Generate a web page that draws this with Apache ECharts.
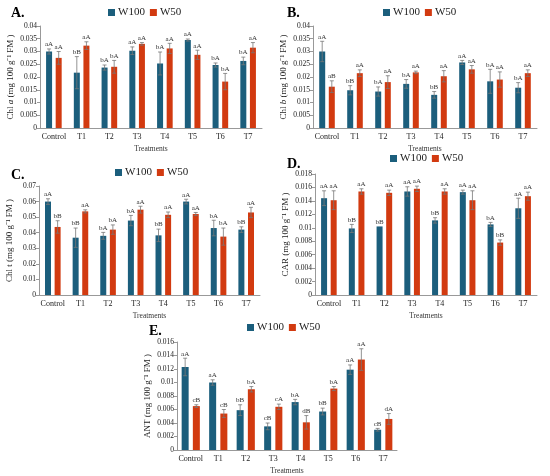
<!DOCTYPE html>
<html>
<head>
<meta charset="utf-8">
<script src="https://cdn.jsdelivr.net/npm/echarts@6/dist/echarts.min.js"></script>
<style>
html, body {margin: 0; padding: 0; background: #fff;}
#main {width: 550px; height: 476px;}
</style>
</head>
<body>
<div id="main"></div>
<script>
var categories = ['Control', 'T1', 'T2', 'T3', 'T4', 'T5', 'T6', 'T7'];

// A. Chl a
var chlaW100 = [0.0300, 0.0217, 0.0237, 0.0303, 0.0253, 0.0345, 0.0247, 0.0263];
var chlaW50 = [0.0275, 0.0323, 0.0240, 0.0330, 0.0312, 0.0287, 0.0182, 0.0315];
var chlaW100Err = [0.0010, 0.0063, 0.0010, 0.0015, 0.0045, 0.0004, 0.0008, 0.0015];
var chlaW50Err = [0.0025, 0.0015, 0.0025, 0.0005, 0.0020, 0.0018, 0.0032, 0.0020];
var chlaW100Lbl = ['aA', 'bB', 'bA', 'aA', 'bA', 'aA', 'bA', 'bA'];
var chlaW50Lbl = ['aA', 'aA', 'bA', 'aA', 'aA', 'aA', 'bA', 'aA'];

// B. Chl b
var chlbW100 = [0.0300, 0.0148, 0.0143, 0.0173, 0.0130, 0.0257, 0.0183, 0.0158];
var chlbW50 = [0.0162, 0.0215, 0.0180, 0.0218, 0.0203, 0.0230, 0.0190, 0.0215];
var chlbW100Err = [0.0040, 0.0018, 0.0018, 0.0017, 0.0013, 0.0008, 0.0047, 0.0020];
var chlbW50Err = [0.0023, 0.0013, 0.0025, 0.0005, 0.0022, 0.0015, 0.0030, 0.0013];
var chlbW100Lbl = ['aA', 'bB', 'bA', 'bA', 'bB', 'aA', 'bA', 'bA'];
var chlbW50Lbl = ['aB', 'aA', 'aA', 'aA', 'aA', 'aA', 'aA', 'aA'];

// C. Chl t
var chltW100 = [0.0600, 0.0368, 0.0380, 0.0478, 0.0383, 0.0600, 0.0430, 0.0420];
var chltW50 = [0.0437, 0.0537, 0.0420, 0.0548, 0.0515, 0.0520, 0.0375, 0.0530];
var chltW100Err = [0.0018, 0.0062, 0.0022, 0.0033, 0.0040, 0.0015, 0.0050, 0.0018];
var chltW50Err = [0.0040, 0.0010, 0.0030, 0.0022, 0.0018, 0.0010, 0.0055, 0.0033];
var chltW100Lbl = ['aA', 'bB', 'bA', 'bA', 'bB', 'aA', 'bA', 'bB'];
var chltW50Lbl = ['bB', 'aA', 'bA', 'aA', 'aA', 'aA', 'bA', 'aA'];

// D. CAR
var carW100 = [0.0144, 0.0099, 0.0102, 0.0154, 0.0111, 0.0153, 0.0105, 0.0129];
var carW50 = [0.0141, 0.0154, 0.0152, 0.0158, 0.0154, 0.0141, 0.0078, 0.0147];
var carW100Err = [0.0011, 0.0006, 0.0000, 0.0007, 0.0004, 0.0003, 0.0003, 0.0015];
var carW50Err = [0.0014, 0.0004, 0.0004, 0.0004, 0.0004, 0.0014, 0.0004, 0.0006];
var carW100Lbl = ['aA', 'bB', 'bB', 'aA', 'bB', 'aA', 'bA', 'aA'];
var carW50Lbl = ['aA', 'aA', 'aA', 'aA', 'aA', 'aA', 'bB', 'aA'];

// E. ANT
var antW100 = [0.0123, 0.0100, 0.0059, 0.0035, 0.0071, 0.0057, 0.0119, 0.0030];
var antW50 = [0.0065, 0.0054, 0.0090, 0.0064, 0.0041, 0.0091, 0.0134, 0.0046];
var antW100Err = [0.0013, 0.0004, 0.0008, 0.0005, 0.0004, 0.0005, 0.0007, 0.0002];
var antW50Err = [0.0002, 0.0006, 0.0004, 0.0004, 0.0010, 0.0003, 0.0016, 0.0008];
var antW100Lbl = ['aA', 'aA', 'bB', 'cB', 'bA', 'bB', 'aA', 'cB'];
var antW50Lbl = ['cB', 'cB', 'bA', 'cA', 'dB', 'bA', 'aA', 'dA'];

var yMax = [0.04, 0.04, 0.07, 0.018, 0.016];
var yStep = [0.005, 0.005, 0.01, 0.002, 0.002];

var serif = 'Liberation Serif';
var c100 = '#1b5e7c';
var c50 = '#d23a10';

var myChart = echarts.init(document.getElementById('main'));

var panels = [
    {tag: 'A.', name: '{n|Chl }{i|a}{n| (mg 100 g⁻¹ FM )}', w100: chlaW100, w50: chlaW50, e100: chlaW100Err, e50: chlaW50Err, l100: chlaW100Lbl, l50: chlaW50Lbl,
        grid: {left: 40, top: 26, width: 222, height: 102}, title: [6, 1], legend: [103, 2], bw: 6},
    {tag: 'B.', name: '{n|Chl }{i|b}{n| (mg 100 g⁻¹ FM )}', w100: chlbW100, w50: chlbW50, e100: chlbW100Err, e50: chlbW50Err, l100: chlbW100Lbl, l50: chlbW50Lbl,
        grid: {left: 313, top: 26, width: 224, height: 102}, title: [282, 1], legend: [378, 2], bw: 6},
    {tag: 'C.', name: '{n|Chl t (mg 100 g⁻¹ FM )}', w100: chltW100, w50: chltW50, e100: chltW100Err, e50: chltW50Err, l100: chltW100Lbl, l50: chltW50Lbl,
        grid: {left: 39, top: 186, width: 221, height: 109}, title: [6, 163], legend: [110, 162], bw: 6},
    {tag: 'D.', name: '{n|CAR (mg 100 g⁻¹ FM )}', w100: carW100, w50: carW50, e100: carW100Err, e50: carW50Err, l100: carW100Lbl, l50: carW50Lbl,
        grid: {left: 315, top: 174, width: 222, height: 121}, title: [282, 152], legend: [385, 148], bw: 6},
    {tag: 'E.', name: '{n|ANT (mg 100 g⁻¹ FM )}', w100: antW100, w50: antW50, e100: antW100Err, e50: antW50Err, l100: antW100Lbl, l50: antW50Lbl,
        grid: {left: 177, top: 342, width: 220, height: 109}, title: [144, 319], legend: [242, 317], bw: 7}
];

// 误差线 + 显著性字母
function errRender(vals, errs, lbls, shift) {
    return function (params, api) {
        var i = params.dataIndex;
        var v = vals[i], e = errs[i];
        var top = api.coord([i, v + e]);
        var bot = api.coord([i, v - e]);
        var x = api.coord([i, v])[0] + shift;
        var kids = [];
        if (e > 0) {
            kids.push({type: 'line', shape: {x1: x, y1: bot[1], x2: x, y2: top[1]}, style: {stroke: '#777', lineWidth: 0.8}});
            kids.push({type: 'line', shape: {x1: x - 2, y1: top[1], x2: x + 2, y2: top[1]}, style: {stroke: '#777', lineWidth: 0.8}});
            kids.push({type: 'line', shape: {x1: x - 2, y1: bot[1], x2: x + 2, y2: bot[1]}, style: {stroke: '#777', lineWidth: 0.8}});
        }
        kids.push({type: 'text', style: {text: lbls[i], x: x, y: top[1] - 1, align: 'center', verticalAlign: 'bottom',
            fontSize: 7, fontFamily: serif, fill: '#333'}});
        return {type: 'group', children: kids};
    };
}

var option = {
    animation: false,
    backgroundColor: '#fff',
    title: [], legend: [], grid: [], xAxis: [], yAxis: [], series: []
};

panels.forEach(function (p, k) {
    option.title.push({text: p.tag, left: p.title[0], top: p.title[1],
        textStyle: {fontFamily: serif, fontSize: 14, fontWeight: 'bold', color: '#000'}});
    option.legend.push({data: ['W100', 'W50'], left: p.legend[0], top: p.legend[1], itemWidth: 7, itemHeight: 7, itemGap: 5,
        icon: 'rect', selectedMode: false, textStyle: {fontFamily: serif, fontSize: 11, color: '#222', padding: [0, 0, 0, -2]}});
    option.grid.push(p.grid);
    option.xAxis.push({type: 'category', gridIndex: k, data: categories, name: 'Treatments', nameLocation: 'middle', nameGap: 17,
        nameTextStyle: {fontFamily: serif, fontSize: 7.5, color: '#333'},
        axisLine: {lineStyle: {color: '#999'}}, axisTick: {show: false},
        axisLabel: {fontFamily: serif, fontSize: 8, color: '#222', margin: 5, interval: 0}});
    option.yAxis.push({type: 'value', gridIndex: k, min: 0, max: yMax[k], interval: yStep[k], name: p.name, nameLocation: 'middle', nameGap: 25,
        nameTextStyle: {rich: {n: {fontFamily: serif, fontSize: 9, color: '#222'}, i: {fontFamily: serif, fontSize: 9, fontStyle: 'italic', color: '#222'}}},
        axisLine: {show: true, lineStyle: {color: '#999'}}, axisTick: {show: true, length: 3, lineStyle: {color: '#999'}},
        splitLine: {show: false},
        axisLabel: {fontFamily: serif, fontSize: 7.5, color: '#222', margin: 3}});
    var gap = p.bw * 0.6;
    var off = (p.bw + gap) / 2;
    option.series.push({name: 'W100', type: 'bar', xAxisIndex: k, yAxisIndex: k, data: p.w100, barWidth: p.bw, barGap: '60%', itemStyle: {color: c100}});
    option.series.push({name: 'W50', type: 'bar', xAxisIndex: k, yAxisIndex: k, data: p.w50, barWidth: p.bw, barGap: '60%', itemStyle: {color: c50}});
    option.series.push({name: 'err100_' + k, type: 'custom', xAxisIndex: k, yAxisIndex: k, z: 5,
        renderItem: errRender(p.w100, p.e100, p.l100, -off), data: p.w100.map(function (v, i) { return [i, v]; })});
    option.series.push({name: 'err50_' + k, type: 'custom', xAxisIndex: k, yAxisIndex: k, z: 5,
        renderItem: errRender(p.w50, p.e50, p.l50, off), data: p.w50.map(function (v, i) { return [i, v]; })});
});

myChart.setOption(option);
</script>
</body>
</html>
